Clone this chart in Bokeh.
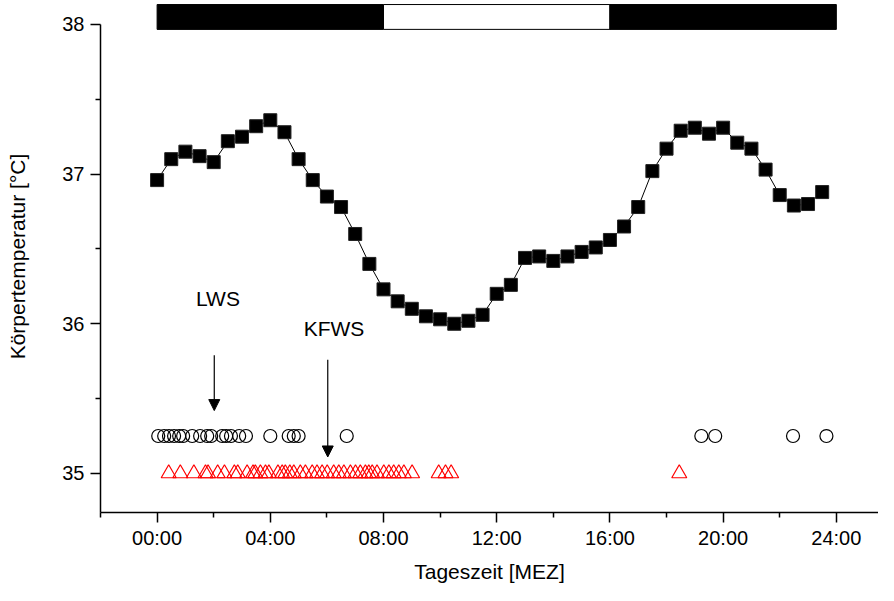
from bokeh.plotting import figure
from bokeh.models import Range1d, FixedTicker, Arrow, NormalHead, Label
from bokeh.embed import file_html
from bokeh.resources import INLINE

# ---- data ----
time_h = [0.0, 0.5, 1.0, 1.5, 2.0, 2.5, 3.0, 3.5, 4.0, 4.5, 5.0, 5.5,
          6.0, 6.5, 7.0, 7.5, 8.0, 8.5, 9.0, 9.5, 10.0, 10.5, 11.0, 11.5,
          12.0, 12.5, 13.0, 13.5, 14.0, 14.5, 15.0, 15.5, 16.0, 16.5, 17.0, 17.5,
          18.0, 18.5, 19.0, 19.5, 20.0, 20.5, 21.0, 21.5, 22.0, 22.5, 23.0, 23.5]
temp_c = [36.96, 37.10, 37.15, 37.12, 37.08, 37.22, 37.25, 37.32, 37.36, 37.28, 37.10, 36.96,
          36.85, 36.78, 36.60, 36.40, 36.23, 36.15, 36.10, 36.05, 36.03, 36.00, 36.02, 36.06,
          36.20, 36.26, 36.44, 36.45, 36.42, 36.45, 36.48, 36.51, 36.56, 36.65, 36.78, 37.02,
          37.17, 37.29, 37.31, 37.27, 37.31, 37.21, 37.17, 37.03, 36.86, 36.79, 36.80, 36.88]

lws_times = [0.04, 0.25, 0.42, 0.60, 0.78, 0.92, 1.24, 1.52, 1.77, 1.91, 2.30, 2.44,
             2.61, 2.90, 3.14, 4.00, 4.65, 4.83, 5.00, 6.70, 19.23, 19.72, 22.47, 23.65]
lws_level = 35.25

kfws_times = [0.41, 0.82, 1.30, 1.71, 1.80, 2.14, 2.38, 2.73, 2.85, 3.18, 3.39, 3.47,
              3.65, 3.83, 3.95, 4.27, 4.42, 4.53, 4.69, 4.83, 5.06, 5.24, 5.48, 5.65,
              5.83, 6.01, 6.24, 6.42, 6.60, 6.83, 7.01, 7.18, 7.36, 7.48, 7.60, 7.77,
              8.01, 8.19, 8.36, 8.54, 8.72, 9.01, 9.95, 10.19, 10.39, 18.45]
kfws_level = 35.0

phase_start = [0, 8, 16]
phase_end = [8, 16, 24]
phase_color = ["black", "white", "black"]

x_tick_values = [0, 4, 8, 12, 16, 20, 24]
x_tick_labels = ["00:00", "04:00", "08:00", "12:00", "16:00", "20:00", "24:00"]
x_minor_ticks = [-2, 2, 6, 10, 14, 18, 22]
y_tick_values = [35, 36, 37, 38]
y_minor_ticks = [35.5, 36.5, 37.5]

FONT = "Liberation Sans"
Y_LO = 34.739

p = figure(width=878, height=585, x_range=Range1d(-2, 25.49), y_range=Range1d(Y_LO, 38.16),
           output_backend="svg", toolbar_location=None,
           min_border_left=100, min_border_right=0, min_border_top=0, min_border_bottom=69)
p.outline_line_color = None
p.grid.visible = False
p.background_fill_color = "white"

# light/dark bar
p.quad(left=phase_start, right=phase_end, bottom=37.967, top=38.133,
       fill_color=phase_color, line_color="black", line_width=1)

# temperature curve
p.line(time_h, temp_c, line_color="black", line_width=1)
p.scatter(time_h, temp_c, marker="square", size=13, fill_color="black", line_color="#222222", line_width=1)

# event rows
p.scatter(lws_times, [lws_level] * len(lws_times), marker="circle", size=13,
          fill_color=None, line_color="black", line_width=1.2)
p.scatter(kfws_times, [kfws_level] * len(kfws_times), marker="triangle", size=15,
          fill_color=None, line_color="red", line_width=1.2)

# annotations
p.add_layout(Label(x=2.15, y=36.17, text="LWS", text_align="center", text_baseline="middle",
                   text_font=FONT, text_font_size="21px", text_color="black"))
p.add_layout(Label(x=6.25, y=35.97, text="KFWS", text_align="center", text_baseline="middle",
                   text_font=FONT, text_font_size="21px", text_color="black"))
p.add_layout(Arrow(end=NormalHead(size=11, fill_color="black", line_color="black"),
                   x_start=2.02, y_start=35.79, x_end=2.02, y_end=35.42,
                   line_color="black", line_width=1.2))
p.add_layout(Arrow(end=NormalHead(size=11, fill_color="black", line_color="black"),
                   x_start=6.03, y_start=35.76, x_end=6.03, y_end=35.11,
                   line_color="black", line_width=1.2))

# axes
xa = p.xaxis[0]
xa.ticker = FixedTicker(ticks=x_tick_values, minor_ticks=x_minor_ticks)
xa.major_label_overrides = {v: l for v, l in zip(x_tick_values, x_tick_labels)}
xa.axis_label = "Tageszeit [MEZ]"

ya = p.yaxis[0]
ya.ticker = FixedTicker(ticks=y_tick_values, minor_ticks=y_minor_ticks)
ya.bounds = (Y_LO, 38)
ya.axis_label = "Körpertemperatur [°C]"

for ax in (xa, ya):
    ax.axis_line_color = "black"
    ax.axis_line_width = 1.5
    ax.major_tick_line_color = "black"
    ax.major_tick_line_width = 1.5
    ax.minor_tick_line_color = "black"
    ax.minor_tick_line_width = 1.5
    ax.major_tick_out = 10
    ax.major_tick_in = 0
    ax.minor_tick_out = 5
    ax.minor_tick_in = 0
    ax.major_label_text_font = FONT
    ax.major_label_text_font_size = "20px"
    ax.major_label_text_color = "black"
    ax.axis_label_text_font = FONT
    ax.axis_label_text_font_size = "21px"
    ax.axis_label_text_font_style = "normal"
    ax.axis_label_text_color = "black"

xa.major_label_standoff = 4
xa.axis_label_standoff = 8
ya.major_label_standoff = 6
ya.axis_label_standoff = 30

open("out.html", "w").write(file_html(p, INLINE))
